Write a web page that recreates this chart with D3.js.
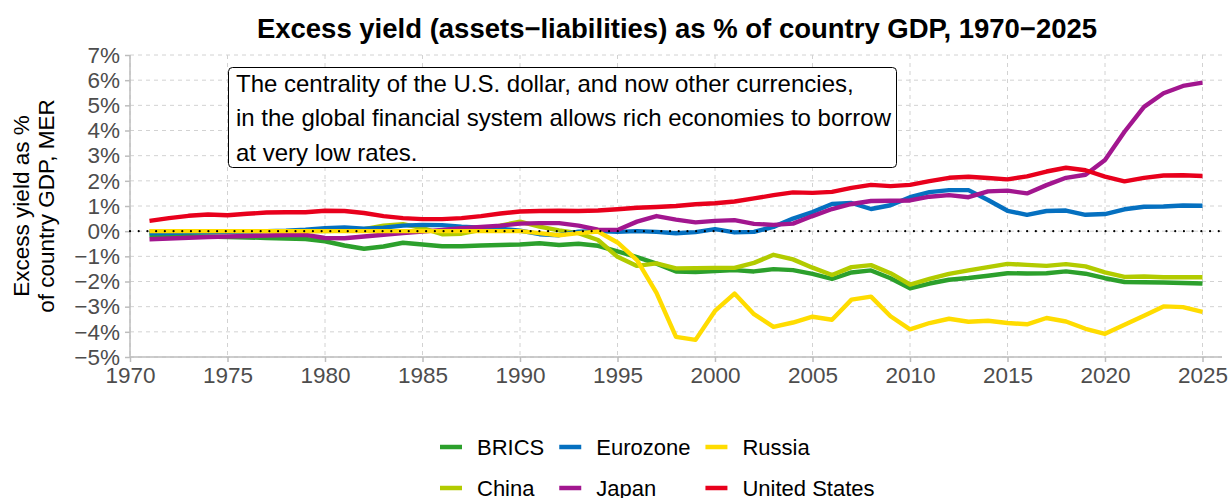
<!DOCTYPE html>
<html>
<head>
<meta charset="utf-8">
<script src="https://cdn.jsdelivr.net/npm/d3@7"></script>
<style>
  body { margin: 0; background: #fff; }
  svg { display: block; font-family: "Liberation Sans", Arial, sans-serif; }
</style>
</head>
<body>
<svg id="chart" width="1231" height="498"></svg>
<script>
// years 1971..2025
var years = d3.range(1971, 2026);

var brics = [-0.15,-0.18,-0.20,-0.21,-0.23,-0.25,-0.27,-0.29,-0.31,-0.40,
  -0.57,-0.70,-0.61,-0.46,-0.53,-0.60,-0.60,-0.57,-0.55,-0.53,
  -0.48,-0.55,-0.50,-0.58,-0.80,-1.03,-1.29,-1.60,-1.62,-1.58,
  -1.55,-1.60,-1.51,-1.55,-1.70,-1.90,-1.64,-1.56,-1.87,-2.27,
  -2.08,-1.93,-1.86,-1.77,-1.67,-1.68,-1.67,-1.60,-1.69,-1.87,
  -2.02,-2.03,-2.04,-2.06,-2.08];

var china = [-0.02,0.00,0.00,0.00,0.00,0.00,0.00,0.00,0.00,0.00,
  0.02,0.08,0.22,0.28,0.12,-0.12,-0.10,0.05,0.22,0.38,
  0.18,0.03,-0.08,-0.35,-1.02,-1.38,-1.28,-1.48,-1.47,-1.46,
  -1.46,-1.26,-0.94,-1.12,-1.45,-1.74,-1.43,-1.35,-1.67,-2.12,
  -1.90,-1.70,-1.56,-1.43,-1.30,-1.34,-1.38,-1.31,-1.40,-1.64,
  -1.82,-1.80,-1.83,-1.83,-1.83];

var eurozone = [-0.08,-0.07,-0.05,-0.04,-0.03,-0.02,0.00,0.02,0.06,0.12,
  0.15,0.10,0.14,0.22,0.25,0.24,0.18,0.14,0.10,0.02,
  -0.12,-0.16,-0.02,0.00,-0.03,0.00,-0.03,-0.08,-0.04,0.08,
  -0.05,-0.03,0.17,0.50,0.76,1.08,1.12,0.88,1.03,1.35,
  1.55,1.63,1.63,1.24,0.81,0.65,0.80,0.82,0.65,0.68,
  0.87,0.97,0.98,1.02,1.01];

var japan = [-0.32,-0.29,-0.26,-0.23,-0.21,-0.19,-0.17,-0.15,-0.15,-0.27,
  -0.28,-0.21,-0.14,-0.08,-0.02,0.05,0.12,0.17,0.22,0.30,
  0.32,0.32,0.22,0.06,0.05,0.38,0.60,0.46,0.35,0.41,
  0.44,0.29,0.25,0.30,0.60,0.88,1.08,1.20,1.21,1.22,
  1.37,1.43,1.35,1.58,1.61,1.50,1.83,2.12,2.24,2.83,
  3.95,4.94,5.48,5.77,5.90];

var russia = [0,0,0,0,0,0,0,0,0,0,
  0,0,0,0,0,0,0,0,0,0,
  -0.08,-0.16,-0.08,-0.02,-0.45,-1.15,-2.45,-4.20,-4.32,-3.17,
  -2.48,-3.30,-3.80,-3.63,-3.40,-3.52,-2.72,-2.60,-3.38,-3.90,
  -3.65,-3.48,-3.60,-3.56,-3.65,-3.70,-3.45,-3.59,-3.88,-4.08,
  -3.72,-3.36,-2.99,-3.02,-3.21];

var unitedStates = [0.41,0.52,0.61,0.66,0.63,0.69,0.74,0.75,0.75,0.81,
  0.80,0.72,0.60,0.52,0.48,0.48,0.52,0.60,0.70,0.78,
  0.80,0.81,0.80,0.82,0.87,0.93,0.96,1.00,1.07,1.11,
  1.18,1.30,1.43,1.54,1.52,1.56,1.72,1.84,1.79,1.84,
  1.99,2.12,2.16,2.11,2.06,2.18,2.37,2.52,2.42,2.17,
  1.98,2.12,2.21,2.22,2.19];

var seriesNames = ["BRICS", "China", "Eurozone", "Japan", "Russia", "United States"];
var seriesValues = [brics, china, eurozone, japan, russia, unitedStates];
var seriesColors = ["#2ca02c", "#b2cb00", "#0570c0", "#a2168f", "#ffdc00", "#e8001c"];

var xTicks = d3.range(1970, 2030, 5);
var yTicks = d3.range(-5, 8, 1);

var note = ["The centrality of the U.S. dollar, and now other currencies,",
  "in the global financial system allows rich economies to borrow",
  "at very low rates."];

function drawChart() {
  var svg = d3.select("#chart");
  var pL = 130, pR = 1222, pT = 55, pB = 357;

  var x = d3.scaleLinear().domain([1970, 2026]).range([pL, pR]);
  var y = d3.scaleLinear().domain([-5, 7]).range([pB, pT]);

  // title
  svg.append("text")
    .attr("x", 677).attr("y", 38)
    .attr("text-anchor", "middle")
    .attr("font-size", "27.5px").attr("font-weight", "bold")
    .text("Excess yield (assets\u2212liabilities) as % of country GDP, 1970\u22122025");

  // grid
  var grid = svg.append("g");
  grid.selectAll("line.h").data(yTicks).enter().append("line")
    .attr("x1", pL).attr("x2", pR)
    .attr("y1", function(d) { return y(d); }).attr("y2", function(d) { return y(d); })
    .attr("stroke", "#d2d2d2").attr("stroke-width", 1).attr("stroke-dasharray", "4,4");
  grid.selectAll("line.v").data(xTicks).enter().append("line")
    .attr("y1", pT).attr("y2", pB)
    .attr("x1", function(d) { return x(d); }).attr("x2", function(d) { return x(d); })
    .attr("stroke", "#d2d2d2").attr("stroke-width", 1).attr("stroke-dasharray", "4,4");

  // axes
  var yAxis = svg.append("g")
    .attr("transform", "translate(" + pL + ",0)")
    .call(d3.axisLeft(y).tickValues(yTicks).tickSize(5).tickPadding(5)
      .tickFormat(function(d) { return (d < 0 ? "\u2212" + (-d) : d) + "%"; }));
  var xAxis = svg.append("g")
    .attr("transform", "translate(0," + pB + ")")
    .call(d3.axisBottom(x).tickValues(xTicks).tickSize(5).tickPadding(5).tickFormat(d3.format("d")));
  [xAxis, yAxis].forEach(function(a) {
    a.select(".domain").attr("stroke", "#bdbdbd").attr("stroke-width", 1.5);
    a.selectAll(".tick line").attr("stroke", "#bdbdbd").attr("stroke-width", 1.5);
    a.selectAll(".tick text").attr("fill", "#4d4d4d").attr("font-size", "22.5px")
      .attr("font-family", "Liberation Sans, Arial, sans-serif");
  });
  yAxis.select(".domain").attr("d", "M0," + pB + "V" + pT);
  xAxis.select(".domain").attr("d", "M" + pL + ",0H" + pR);

  // y-axis title
  var yt = svg.append("text")
    .attr("transform", "translate(29," + ((pT + pB) / 2) + ") rotate(-90)")
    .attr("text-anchor", "middle").attr("font-size", "22.5px");
  yt.append("tspan").attr("x", 0).attr("dy", 0).text("Excess yield as %");
  yt.append("tspan").attr("x", 0).attr("dy", 25).text("of country GDP, MER");

  // lines
  var line = d3.line()
    .x(function(d) { return x(d[0]); })
    .y(function(d) { return y(d[1]); });
  seriesValues.forEach(function(vals, i) {
    svg.append("path")
      .datum(years.map(function(yr, j) { return [yr, vals[j]]; }))
      .attr("d", line)
      .attr("fill", "none")
      .attr("stroke", seriesColors[i])
      .attr("stroke-width", 4.4)
      .attr("stroke-linejoin", "round");
  });

  // zero line
  svg.append("line")
    .attr("x1", pL).attr("x2", pR)
    .attr("y1", y(0)).attr("y2", y(0))
    .attr("stroke", "#000").attr("stroke-width", 2.2)
    .attr("stroke-linecap", "round").attr("stroke-dasharray", "0.01,8.7");

  // note box
  var nb = svg.append("g");
  nb.append("rect")
    .attr("x", 228.5).attr("y", 67.5).attr("width", 668).attr("height", 100)
    .attr("rx", 4).attr("fill", "#fff").attr("stroke", "#000").attr("stroke-width", 1);
  nb.selectAll("text").data(note).enter().append("text")
    .attr("x", 236).attr("y", function(d, i) { return 92 + i * 34.3; })
    .attr("font-size", "24px").attr("fill", "#000")
    .text(function(d) { return d; });

  // legend (column-major, 2 rows)
  var lg = svg.append("g");
  var colX = 440;
  for (var c = 0; c < 3; c++) {
    var maxW = 0;
    for (var r = 0; r < 2; r++) {
      var k = c * 2 + r;
      var ly = 447 + r * 41;
      lg.append("line")
        .attr("x1", colX).attr("x2", colX + 22)
        .attr("y1", ly).attr("y2", ly)
        .attr("stroke", seriesColors[k]).attr("stroke-width", 4.5);
      var t = lg.append("text")
        .attr("x", colX + 37).attr("y", ly + 8)
        .attr("font-size", "22px").text(seriesNames[k]);
      maxW = Math.max(maxW, t.node().getComputedTextLength());
    }
    colX += 37 + maxW + 15;
  }
}
drawChart();
</script>
</body>
</html>
